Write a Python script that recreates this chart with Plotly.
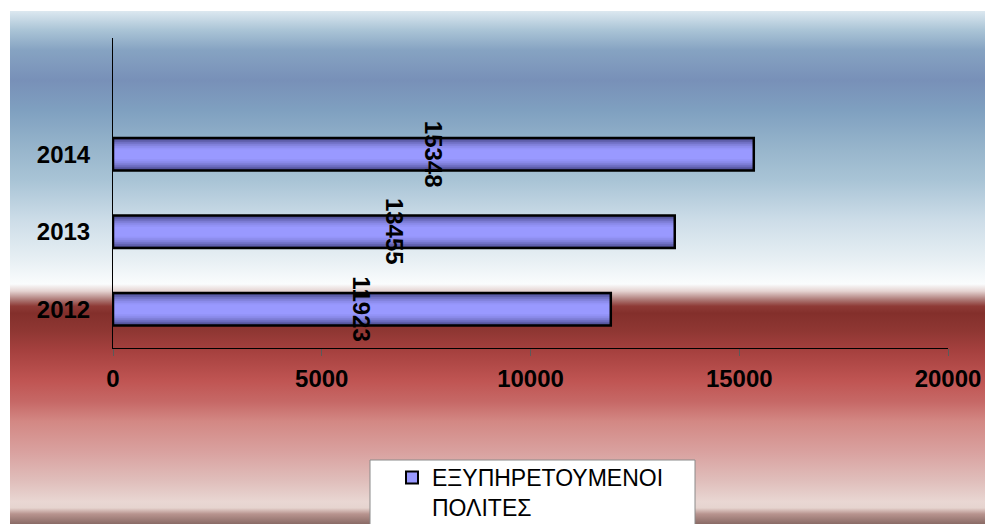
import base64
import plotly.graph_objects as go

# ---- data ----
years = ["2012", "2013", "2014"]
citizens = [11923, 13455, 15348]
series_name = "ΕΞΥΠΗΡΕΤΟΥΜΕΝΟΙ<br>ΠΟΛΙΤΕΣ"
x_ticks = [0, 5000, 10000, 15000, 20000]

# ---- layout geometry ----
# the page body has an 8px margin, so the figure starts at (8, 8) of the window
OFF = 8
WIN_W, WIN_H = 993, 524
W, H = WIN_W - OFF, WIN_H - OFF
# plot area in window pixels: x 113..948, y 38..348
L = 113 - OFF
T = 38 - OFF
R = W - (948 - OFF)
B = H - (348 - OFF)
PW, PH = W - L - R, H - T - B


def px_x(wx):
    return (wx - OFF - L) / PW


def px_y(wy):
    return (H - B - (wy - OFF)) / PH


def cx(wx):
    return (wx - OFF) / W


def cy(wy):
    return 1 - (wy - OFF) / H


# background gradient stops: (window pixel y, colour)
top_y, bot_y = 11, WIN_H
stops = [
    (11, "#dce8f0"), (30, "#aac4d6"), (50, "#86a3c2"), (80, "#7890b8"),
    (110, "#7fa0c0"), (150, "#98b6cc"), (180, "#a9c4d6"), (220, "#cddde8"),
    (260, "#e8f0f4"), (283, "#fafcfd"), (290, "#e5d3d1"), (298, "#b07f7c"),
    (305, "#8e3a36"), (312, "#832f2b"), (330, "#8f3733"), (350, "#a6413f"),
    (380, "#c05553"), (400, "#c66866"), (420, "#d38884"), (450, "#d9a19f"),
    (480, "#e0bfbc"), (500, "#e9d7d3"), (506, "#e6d4cf"), (512, "#b8948f"),
    (524, "#80625d"),
]
stop_xml = "".join(
    "<stop offset='%.4f' stop-color='%s'/>" % ((y - top_y) / (bot_y - top_y), c)
    for y, c in stops
)
svg = (
    "<svg xmlns='http://www.w3.org/2000/svg' width='100' height='100' "
    "viewBox='0 0 100 100' preserveAspectRatio='none'>"
    "<defs><linearGradient id='g' x1='0' y1='0' x2='0' y2='1'>" + stop_xml +
    "</linearGradient></defs>"
    "<rect x='0' y='0' width='100' height='100' fill='url(#g)'/></svg>"
)
bg_src = "data:image/svg+xml;base64," + base64.b64encode(svg.encode()).decode()

shapes = [
    # legend box
    dict(
        type="rect", xref="paper", yref="paper", layer="below",
        x0=px_x(370), x1=px_x(695), y0=px_y(460), y1=px_y(540),
        fillcolor="white", line=dict(color="#8a8a8a", width=1),
    )
]

fig = go.Figure()

# bar body with vertical shading (dark edges, light centre)
layers = [
    (0.42, "#4e4e90"),
    (0.37, "#5e5eaa"),
    (0.32, "#7070c4"),
    (0.27, "#8080da"),
    (0.22, "#8c8cec"),
    (0.17, "#9494f8"),
    (0.12, "#9999ff"),
]
for w, c in layers:
    fig.add_trace(go.Bar(
        x=citizens, y=years, orientation="h", width=w,
        marker=dict(color=c, line=dict(width=0)),
        showlegend=False, hoverinfo="skip",
    ))

# outline
fig.add_trace(go.Bar(
    x=citizens, y=years, orientation="h", width=0.42,
    marker=dict(color="rgba(0,0,0,0)", line=dict(color="black", width=2.5)),
    showlegend=False, name="ΕΞΥΠΗΡΕΤΟΥΜΕΝΟΙ ΠΟΛΙΤΕΣ",
))

# legend entry
fig.add_trace(go.Bar(
    x=[None], y=[None], orientation="h", name=series_name,
    marker=dict(color="#9999ff", line=dict(color="black", width=2)),
    showlegend=True,
))

annotations = []
for i, v in enumerate(citizens):
    annotations.append(dict(
        x=v / 2, y=i, xref="x", yref="y", text="<b>%d</b>" % v, textangle=90,
        showarrow=False, xanchor="center", yanchor="middle",
        font=dict(family="Arial", size=24, color="black"),
    ))

fig.update_layout(
    width=W, height=H,
    margin=dict(l=L, r=R, t=T, b=B, pad=0, autoexpand=False),
    paper_bgcolor="white",
    plot_bgcolor="rgba(0,0,0,0)",
    barmode="overlay",
    shapes=shapes,
    images=[dict(
        source=bg_src, xref="paper", yref="paper",
        x=px_x(10), y=px_y(11), sizex=px_x(WIN_W + 4) - px_x(10),
        sizey=px_y(11) - px_y(WIN_H + 2),
        xanchor="left", yanchor="top", sizing="stretch", layer="below",
    )],
    annotations=annotations,
    showlegend=True,
    legend=dict(
        xref="container", yref="container",
        x=cx(392), y=cy(456), xanchor="left", yanchor="top",
        bgcolor="rgba(0,0,0,0)", borderwidth=0, valign="top",
        font=dict(family="Arial", size=23, color="black"),
    ),
    xaxis=dict(
        range=[0, 20000], tickvals=x_ticks, ticktext=[str(t) for t in x_ticks],
        showgrid=False, zeroline=False,
        showline=True, linecolor="black", linewidth=1,
        ticks="outside", ticklen=7, tickcolor="#5a5a5a", tickwidth=1,
        ticklabelstandoff=2,
        tickfont=dict(family="Arial", size=24, color="black", weight="bold"),
        fixedrange=True,
    ),
    yaxis=dict(
        type="category", categoryorder="array", categoryarray=years,
        range=[-0.5, 3.5],
        showgrid=False, zeroline=False,
        showline=True, linecolor="black", linewidth=1,
        ticks="outside", ticklen=17, tickcolor="rgba(0,0,0,0)",
        tickfont=dict(family="Arial", size=24, color="black", weight="bold"),
        fixedrange=True,
    ),
)

fig.write_html("out.html")
